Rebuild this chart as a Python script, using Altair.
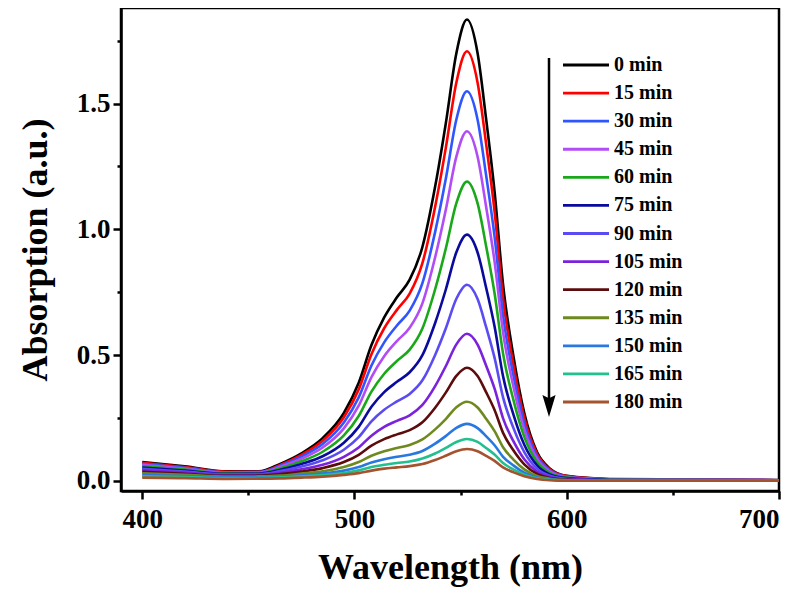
import altair as alt
import pandas as pd

# ---------------- data ----------------
wavelengths = [400, 420, 440, 455, 465, 475, 485, 495, 502, 508, 514, 520, 526, 532, 538,
               543, 548, 553, 558, 562, 566, 570, 575, 580, 586, 592, 600, 620, 700]

series_labels = ["0 min", "15 min", "30 min", "45 min", "60 min", "75 min", "90 min",
                 "105 min", "120 min", "135 min", "150 min", "165 min", "180 min"]

series_colors = ["#000000", "#ff0000", "#2f55ff", "#b24cf5", "#1aa81a", "#0a0a9c", "#5a4cf2",
                 "#7b22dc", "#5c0c0c", "#6e8a1e", "#2878e0", "#22bf8f", "#a4532f"]

abs_0 = [0.075, 0.058, 0.038, 0.038, 0.068, 0.110, 0.170, 0.270, 0.390, 0.540, 0.650, 0.730, 0.800, 0.930, 1.170,
         1.420, 1.700, 1.834, 1.700, 1.440, 1.150, 0.780, 0.490, 0.270, 0.115, 0.050, 0.020, 0.008, 0.004]
abs_15 = [0.072, 0.055, 0.036, 0.036, 0.064, 0.104, 0.160, 0.253, 0.364, 0.504, 0.607, 0.680, 0.745, 0.866, 1.090,
          1.323, 1.584, 1.708, 1.583, 1.341, 1.071, 0.726, 0.456, 0.251, 0.108, 0.046, 0.019, 0.007, 0.003]
abs_30 = [0.068, 0.052, 0.034, 0.035, 0.060, 0.097, 0.147, 0.232, 0.332, 0.459, 0.551, 0.618, 0.677, 0.786, 0.990,
          1.200, 1.437, 1.549, 1.436, 1.216, 0.971, 0.658, 0.414, 0.228, 0.098, 0.042, 0.017, 0.006, 0.003]
abs_45 = [0.064, 0.049, 0.032, 0.033, 0.056, 0.088, 0.133, 0.209, 0.299, 0.413, 0.496, 0.556, 0.609, 0.706, 0.889,
          1.077, 1.289, 1.390, 1.289, 1.091, 0.872, 0.591, 0.371, 0.204, 0.088, 0.038, 0.015, 0.006, 0.003]
abs_60 = [0.058, 0.045, 0.030, 0.031, 0.050, 0.078, 0.116, 0.181, 0.258, 0.355, 0.426, 0.477, 0.522, 0.606, 0.762,
          0.923, 1.104, 1.190, 1.103, 0.934, 0.746, 0.506, 0.318, 0.175, 0.075, 0.032, 0.013, 0.005, 0.002]
abs_75 = [0.053, 0.041, 0.028, 0.029, 0.044, 0.067, 0.098, 0.152, 0.215, 0.295, 0.353, 0.394, 0.432, 0.500, 0.628,
          0.760, 0.909, 0.979, 0.908, 0.769, 0.614, 0.416, 0.261, 0.144, 0.062, 0.026, 0.011, 0.004, 0.002]
abs_90 = [0.048, 0.037, 0.026, 0.027, 0.039, 0.057, 0.082, 0.124, 0.174, 0.237, 0.283, 0.316, 0.346, 0.400, 0.501,
          0.606, 0.724, 0.780, 0.723, 0.612, 0.489, 0.332, 0.208, 0.115, 0.049, 0.021, 0.009, 0.003, 0.002]
abs_105 = [0.042, 0.033, 0.023, 0.024, 0.032, 0.046, 0.064, 0.096, 0.133, 0.180, 0.215, 0.239, 0.261, 0.302, 0.377,
           0.456, 0.543, 0.585, 0.542, 0.459, 0.367, 0.249, 0.156, 0.086, 0.037, 0.016, 0.006, 0.003, 0.001]
abs_120 = [0.036, 0.028, 0.020, 0.021, 0.027, 0.037, 0.051, 0.075, 0.104, 0.140, 0.166, 0.185, 0.202, 0.233, 0.291,
           0.351, 0.418, 0.450, 0.417, 0.353, 0.282, 0.191, 0.120, 0.066, 0.028, 0.012, 0.005, 0.002, 0.001]
abs_135 = [0.030, 0.024, 0.017, 0.018, 0.021, 0.029, 0.038, 0.055, 0.075, 0.100, 0.118, 0.131, 0.143, 0.165, 0.205,
           0.246, 0.293, 0.315, 0.292, 0.247, 0.198, 0.134, 0.084, 0.046, 0.020, 0.009, 0.003, 0.001, 0.001]
abs_150 = [0.024, 0.019, 0.014, 0.014, 0.017, 0.022, 0.029, 0.041, 0.055, 0.073, 0.086, 0.096, 0.104, 0.119, 0.148,
           0.178, 0.211, 0.227, 0.210, 0.178, 0.142, 0.096, 0.061, 0.033, 0.014, 0.006, 0.003, 0.001, 0.001]
abs_165 = [0.018, 0.015, 0.011, 0.012, 0.014, 0.018, 0.023, 0.031, 0.042, 0.055, 0.064, 0.071, 0.077, 0.089, 0.109,
           0.131, 0.155, 0.167, 0.155, 0.131, 0.105, 0.071, 0.045, 0.025, 0.011, 0.005, 0.002, 0.001, 0.001]
abs_180 = [0.013, 0.011, 0.008, 0.009, 0.010, 0.013, 0.017, 0.024, 0.031, 0.041, 0.049, 0.054, 0.059, 0.067, 0.083,
           0.100, 0.118, 0.127, 0.118, 0.100, 0.080, 0.054, 0.034, 0.019, 0.008, 0.003, 0.001, 0.001, 0.001]

series_values = [abs_0, abs_15, abs_30, abs_45, abs_60, abs_75, abs_90,
                 abs_105, abs_120, abs_135, abs_150, abs_165, abs_180]

x_ticks = [400, 450, 500, 550, 600, 650, 700]
y_ticks = [0.0, 0.25, 0.5, 0.75, 1.0, 1.25, 1.5, 1.75]

# ---------------- tables ----------------
rows = []
for i, (lab, vals) in enumerate(zip(series_labels, series_values)):
    for w, v in zip(wavelengths, vals):
        rows.append({"series": lab, "order": i, "wavelength": w, "absorption": v})
df = pd.DataFrame(rows)
legend_df = pd.DataFrame({"series": series_labels})
one_row = pd.DataFrame({"k": [0]})

FONT = "Liberation Serif"

color_scale = alt.Scale(domain=series_labels, range=series_colors)

lines = alt.Chart(df).mark_line(strokeWidth=2.6, interpolate="monotone", clip=True).encode(
    x=alt.X("wavelength:Q",
            scale=alt.Scale(domain=[390, 700], nice=False, zero=False),
            axis=alt.Axis(values=x_ticks, title="Wavelength (nm)",
                          labelExpr="datum.value % 100 === 0 ? datum.label : ''",
                          tickSize={"condition": {"test": "datum.value % 100 !== 0", "value": 4}, "value": 8},
                          labelPadding=7, titlePadding=18)),
    y=alt.Y("absorption:Q",
            scale=alt.Scale(domain=[-0.04, 1.88], nice=False, zero=False),
            axis=alt.Axis(values=y_ticks, title="Absorption (a.u.)", format=".1f",
                          labelExpr="datum.value % 0.5 === 0 ? datum.label : ''",
                          tickSize={"condition": {"test": "datum.value % 0.5 !== 0", "value": 4}, "value": 8},
                          labelPadding=3, titlePadding=22)),
    color=alt.Color("series:N", scale=color_scale, legend=None),
    order=alt.Order("order:Q", sort="descending"),
    detail="series:N",
)

legend_y = alt.Y("series:N", sort=series_labels,
                 scale=alt.Scale(type="point", range=[57, 394], padding=0), axis=None)

legend_lines = alt.Chart(legend_df).mark_rule(strokeWidth=2.8).encode(
    x=alt.value(442), x2=alt.value(488), y=legend_y,
    color=alt.Color("series:N", scale=color_scale, legend=None),
)
legend_text = alt.Chart(legend_df).mark_text(
    align="left", baseline="middle", font=FONT, fontSize=20, fontWeight="bold", color="black"
).encode(x=alt.value(493), y=legend_y, text="series:N")

arrow_line = alt.Chart(one_row).mark_rule(strokeWidth=2.5, color="black").encode(
    x=alt.value(428), y=alt.value(50), y2=alt.value(400))
arrow_head = alt.Chart(one_row).mark_point(
    shape="M0,1L-0.6,-1L0,-0.7L0.6,-1Z", filled=True, size=484, color="black", opacity=1
).encode(x=alt.value(428), y=alt.value(398))

chart = alt.layer(lines, legend_lines, legend_text, arrow_line, arrow_head).resolve_scale(
    y="independent"
).properties(
    width=658, height=483,
    padding={"left": 113, "top": 0, "right": 10, "bottom": 100},
    autosize=alt.AutoSizeParams(type="none"),
).configure_view(
    stroke="black", strokeWidth=2.5
).configure_axis(
    domainColor="black", domainWidth=2.5, tickColor="black", tickWidth=2.5,
    labelFont=FONT, labelFontSize=27, labelFontWeight="bold", labelColor="black",
    titleFont=FONT, titleFontSize=36, titleFontWeight="bold", titleColor="black",
    grid=False,
)

chart.save("out.html", embed_options={"renderer": "svg", "actions": False})
